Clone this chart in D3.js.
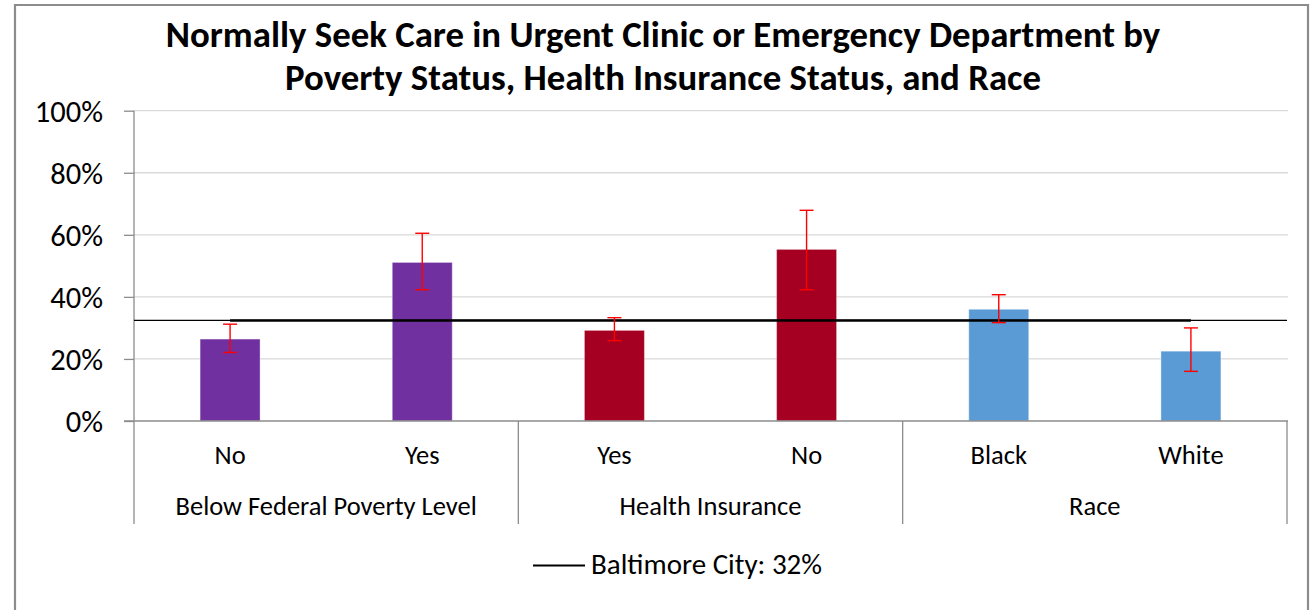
<!DOCTYPE html>
<html>
<head>
<meta charset="utf-8">
<script src="https://cdn.jsdelivr.net/npm/d3@7"></script>
<style>
  html, body { margin: 0; padding: 0; background: #fff; }
  svg { display: block; }
  text { font-family: Carlito, Calibri, Lato, sans-serif; fill: #000; }
</style>
</head>
<body>
<svg id="chart" width="1311" height="610"></svg>
<script>
// ---- data ----
const titleLines = ["Normally Seek Care in Urgent Clinic or Emergency Department by",
                    "Poverty Status, Health Insurance Status, and Race"];
const groups = ["Below Federal Poverty Level", "Health Insurance", "Race"];
const categories = ["No", "Yes", "Yes", "No", "Black", "White"];
const categoryGroup = [0, 0, 1, 1, 2, 2];
const values = [26.4, 51.1, 29.2, 55.3, 36.0, 22.5];
const errLow = [22.1, 42.3, 25.9, 42.3, 31.7, 16.0];
const errHigh = [31.2, 60.5, 33.3, 67.9, 40.7, 30.0];
const groupColors = ["#7030A0", "#A50021", "#5B9BD5"];
const baltimore = 32.4;
const baltimoreLabel = "Baltimore City: 32%";
const yTicks = [0, 20, 40, 60, 80, 100];

// ---- layout ----
const svg = d3.select("#chart");
const plot = { left: 134, right: 1287, top: 110.7, bottom: 421 };

// outer frame
svg.append("path")
  .attr("d", `M15,612 L15,5 L1308,5 L1308,612`)
  .attr("fill", "none").attr("stroke", "#8c8c8c").attr("stroke-width", 2.2);

const idx = categories.map((d, i) => i);
const x = d3.scaleBand().domain(idx).range([plot.left, plot.right])
  .paddingInner(0.688).paddingOuter(0.344);
const y = d3.scaleLinear().domain([0, 100]).range([plot.bottom, plot.top]);

// gridlines
svg.append("g").selectAll("line").data(yTicks.filter(t => t > 0)).join("line")
  .attr("x1", plot.left).attr("x2", plot.right + 1)
  .attr("y1", d => y(d)).attr("y2", d => y(d))
  .attr("stroke", "#d9d9d9").attr("stroke-width", 1.3);

// y axis
const yAxis = d3.axisLeft(y).tickValues(yTicks).tickFormat(d => d + "%")
  .tickSize(10).tickPadding(21);
const gy = svg.append("g").attr("transform", `translate(${plot.left},0)`).call(yAxis);
gy.select(".domain").remove();
gy.selectAll(".tick line").attr("stroke", "#8c8c8c").attr("stroke-width", 1.3);
gy.selectAll(".tick text").attr("font-size", 30.5).attr("fill", "#000")
  .style("font-family", "Carlito, Calibri, Lato, sans-serif").attr("dy", "0.34em");
svg.append("line").attr("x1", plot.left).attr("x2", plot.left)
  .attr("y1", plot.top).attr("y2", 524)
  .attr("stroke", "#8c8c8c").attr("stroke-width", 1.3);

// bars
svg.append("g").selectAll("rect").data(idx).join("rect")
  .attr("x", i => x(i)).attr("width", x.bandwidth())
  .attr("y", i => y(values[i])).attr("height", i => y(0) - y(values[i]))
  .attr("fill", i => groupColors[categoryGroup[i]])
  .attr("stroke", "#ffffff").attr("stroke-opacity", 0.35).attr("stroke-width", 1);

// x axis baseline + multilevel category axis
svg.append("line").attr("x1", plot.left - 10).attr("x2", plot.right + 1)
  .attr("y1", y(0)).attr("y2", y(0)).attr("stroke", "#8c8c8c").attr("stroke-width", 1.3);
const step = x.step();
const bounds = d3.range(groups.length + 1).map(k => plot.left + k * 2 * step);
svg.append("g").selectAll("line").data(bounds.slice(1)).join("line")
  .attr("x1", d => d).attr("x2", d => d).attr("y1", y(0)).attr("y2", 524)
  .attr("stroke", "#8c8c8c").attr("stroke-width", 1.3);

svg.append("g").selectAll("text").data(idx).join("text")
  .attr("x", i => x(i) + x.bandwidth() / 2).attr("y", 464)
  .attr("text-anchor", "middle").attr("font-size", 26.5)
  .text(i => categories[i]);
svg.append("g").selectAll("text").data(groups).join("text")
  .attr("x", (d, k) => (bounds[k] + bounds[k + 1]) / 2).attr("y", 515)
  .attr("text-anchor", "middle").attr("font-size", 26.5)
  .text(d => d);

// Baltimore reference line
svg.append("line").attr("x1", plot.left).attr("x2", plot.right)
  .attr("y1", y(baltimore)).attr("y2", y(baltimore))
  .attr("stroke", "#000").attr("stroke-width", 1.3);
const cx = i => x(i) + x.bandwidth() / 2;
svg.append("line").attr("x1", cx(0)).attr("x2", cx(idx.length - 1))
  .attr("y1", y(baltimore)).attr("y2", y(baltimore))
  .attr("stroke", "#000").attr("stroke-width", 2.4);

// error bars
const eg = svg.append("g").attr("stroke", "#ff0000").attr("stroke-width", 1.4);
idx.forEach(i => {
  const c = cx(i);
  eg.append("line").attr("x1", c).attr("x2", c).attr("y1", y(errHigh[i])).attr("y2", y(errLow[i]));
  eg.append("line").attr("x1", c - 7).attr("x2", c + 7).attr("y1", y(errHigh[i])).attr("y2", y(errHigh[i]));
  eg.append("line").attr("x1", c - 7).attr("x2", c + 7).attr("y1", y(errLow[i])).attr("y2", y(errLow[i]));
});

// title
svg.append("g").selectAll("text").data(titleLines).join("text")
  .attr("x", 663).attr("y", (d, k) => 46.5 + k * 43)
  .attr("text-anchor", "middle").attr("font-size", 36.8).attr("font-weight", "bold")
  .text(d => d);

// legend
svg.append("line").attr("x1", 533).attr("x2", 585).attr("y1", 565.5).attr("y2", 565.5)
  .attr("stroke", "#000").attr("stroke-width", 1.8);
svg.append("text").attr("x", 591).attr("y", 574).attr("font-size", 29).text(baltimoreLabel);
</script>
</body>
</html>
